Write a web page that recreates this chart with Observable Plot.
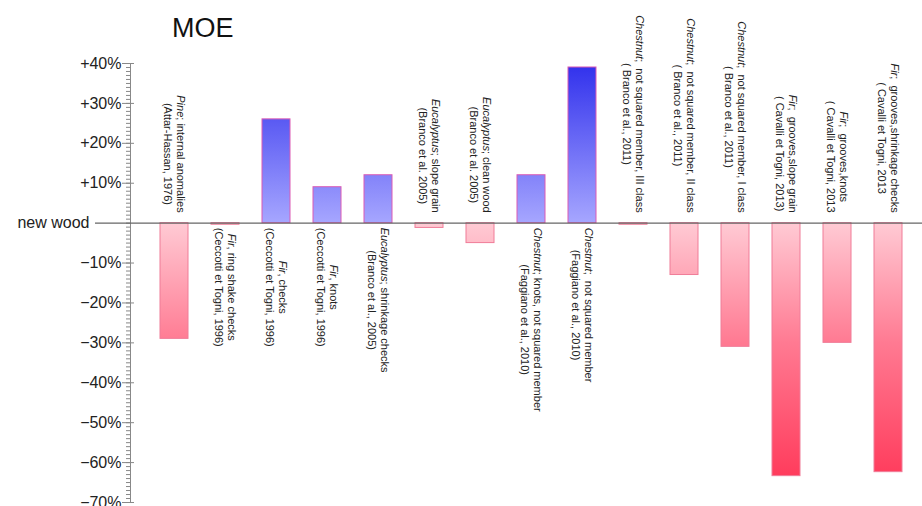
<!DOCTYPE html>
<html>
<head>
<meta charset="utf-8">
<script src="https://cdn.jsdelivr.net/npm/d3@7"></script>
<script src="https://cdn.jsdelivr.net/npm/@observablehq/plot@0.6"></script>
<style>
  body { margin: 0; background: #fff; }
  #wrap { position: relative; width: 922px; height: 506px; overflow: hidden; }
  #title { position: absolute; left: 172px; top: 13px; font: 27px "Liberation Sans", Arial, sans-serif; color: #111; }
</style>
</head>
<body>
<div id="wrap"><div id="title">MOE</div></div>
<script>
// ---- data ----
const species = ["Pine", "Fir", "Fir", "Fir", "Eucalyptus", "Eucalyptus", "Eucalyptus", "Chestnut", "Chestnut", "Chestnut", "Chestnut", "Chestnut", "Fir", "Fir", "Fir"];
const descriptions = ["; internal anomalies", ", ring shake checks", ", checks", ", knots", "; shrinkage checks", "; slope grain", "; clean wood", "; knots, not squared member", ";  not squared member", ";  not squared member, III class", ";  not squared member, II class", ";  not squared member, I class", ";  grooves,slope grain", ";  grooves,knots", ";  grooves,shrinkage checks"];
const citations = ["(Attar-Hassan, 1976)", "(Ceccotti et Togni, 1996)", "(Ceccotti et Togni, 1996)", "(Ceccotti et Togni, 1996)", "(Branco et al., 2005)", "(Branco et al. 2005)", "(Branco et al. 2005)", "(Faggiano et al., 2010)", "(Faggiano et al., 2010)", "( Branco et al., 2011)", "( Branco et al., 2011)", "( Branco et al., 2011)", "( Cavalli et Togni, 2013)", "( Cavalli et Togni, 2013", "( Cavalli et Togni, 2013"];
const values = [-29, -0.4, 26, 9, 12, -1.2, -5, 12, 39, -0.4, -13, -31, -63.4, -30, -62.4];
const labelSide = ["above", "below", "below", "below", "below", "above", "above", "below", "below", "above", "above", "above", "above", "above", "above"];
const yTicks = [-70, -60, -50, -40, -30, -20, -10, 10, 20, 30, 40];
const zeroLabel = "new wood";

const rows = species.map((s, i) => ({
  name: s + descriptions[i], species: s, desc: descriptions[i], cite: citations[i],
  value: values[i], side: labelSide[i]
}));

const FONT = '"Liberation Sans", Arial, sans-serif';
const ctx = document.createElement("canvas").getContext("2d");
function measure(text, italic) {
  ctx.font = (italic ? "italic " : "") + "11px " + FONT;
  return ctx.measureText(text).width;
}

const gradientMark = (index, scales) => {
  const defs = d3.create("svg:defs");
  const y = scales.y;
  const grad = defs.append("linearGradient").attr("id", "moeFill")
    .attr("gradientUnits", "userSpaceOnUse")
    .attr("x1", 0).attr("x2", 0).attr("y1", y(40)).attr("y2", y(-70));
  const off = v => (40 - v) / 110;
  [[40, "#3030ec"], [0, "#a6a6ff"], [0, "#ffcad4"], [-30, "#ff7a92"], [-70, "#ff3052"]].forEach(([v, c]) =>
    grad.append("stop").attr("offset", off(v)).attr("stop-color", c));
  return defs.node();
};

const labelMark = (index, scales, values, dimensions) => {
  const g = d3.create("svg:g").attr("font-family", FONT).attr("font-size", 11).attr("fill", "#222");
  const x = scales.x;
  const bw = x.bandwidth ? x.bandwidth() : 0;
  const y0 = scales.y(0);
  rows.forEach(d => {
    const cx = x(d.name) + bw / 2;
    const w1 = measure(d.species, true) + measure(d.desc, false);
    const w2 = measure(d.cite, false);
    const L = Math.max(w1, w2);
    const c = d.side === "above" ? y0 - 10 - L / 2 : y0 + 5 + L / 2;
    const t = g.append("g").attr("transform", `translate(${cx},${c}) rotate(90)`);
    const t1 = t.append("text").attr("text-anchor", "middle").attr("y", -6.5).attr("dy", "0.35em");
    t1.append("tspan").attr("font-style", "italic").text(d.species);
    t1.append("tspan").text(d.desc);
    t.append("text").attr("text-anchor", "middle").attr("y", 6.5).attr("dy", "0.35em").text(d.cite);
  });
  return g.node();
};

const chart = Plot.plot({
  width: 922,
  height: 506,
  marginTop: 63,
  marginBottom: 4,
  marginLeft: 130,
  marginRight: 0,
  style: { fontFamily: FONT, background: "transparent" },
  x: { domain: rows.map(d => d.name), range: [129.6, 933], padding: 0.45, axis: null },
  y: { domain: [-70, 40], axis: null },
  marks: [
    gradientMark,
    Plot.barY(rows.filter(d => d.value >= 0), { x: "name", y: "value", fill: "url(#moeFill)", stroke: "#dc5ab4", strokeWidth: 1 }),
    Plot.barY(rows.filter(d => d.value < 0), { x: "name", y: "value", fill: "url(#moeFill)", stroke: "#f07c98", strokeWidth: 1 }),
    Plot.axisY({ ticks: d3.range(-70, 41, 1), tickSize: 4, tickFormat: () => "", stroke: "#888", label: null }),
    Plot.axisY({ ticks: yTicks, tickSize: 12, dx: 4, tickPadding: 1, fontSize: 16, stroke: "#888", fill: "#222", label: null,
      tickFormat: d => (d > 0 ? "+" : "\u2212") + Math.abs(d) + "%" }),
    Plot.frame({ anchor: "left", stroke: "#888" }),
    Plot.ruleY([0], { stroke: "#666", strokeWidth: 1.3, insetLeft: -35 }),
    Plot.text([zeroLabel], { y: () => 0, text: d => d, frameAnchor: "left", dx: -41, textAnchor: "end", fontSize: 16, fill: "#222" }),
    labelMark
  ]
});
document.getElementById("wrap").prepend(chart);
</script>
</body>
</html>
